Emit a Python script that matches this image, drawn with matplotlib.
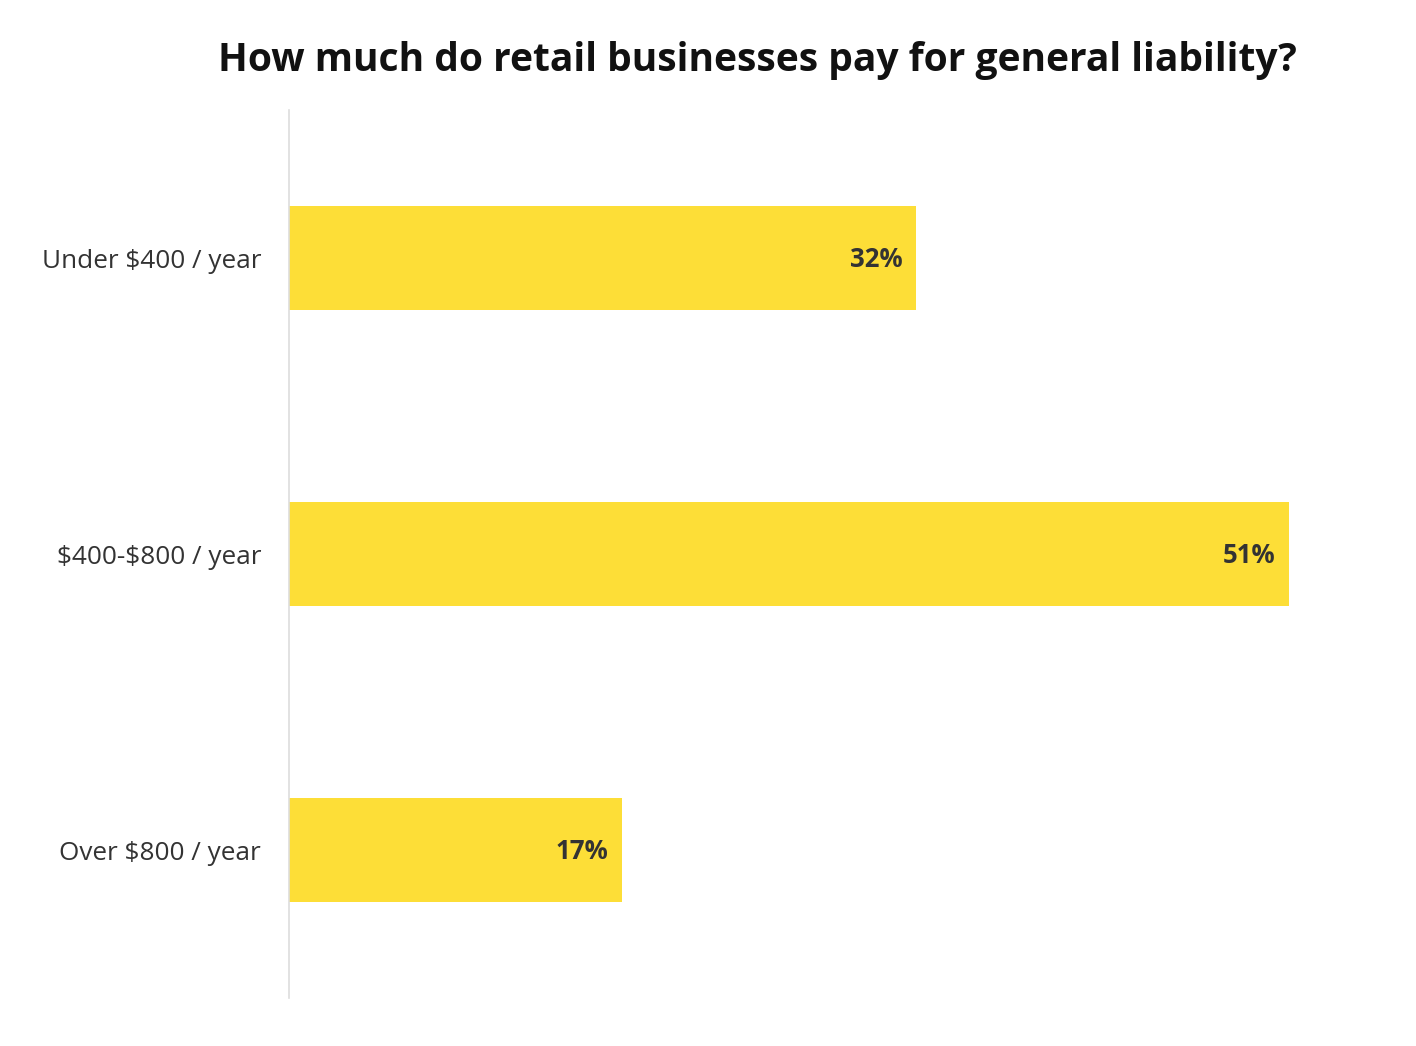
import matplotlib.pyplot as plt

plt.rcParams['font.family'] = ['Open Sans', 'DejaVu Sans']
plt.rcParams['text.parse_math'] = False

# data
categories = ['Under $400 / year', '$400-$800 / year', 'Over $800 / year']
shares = [32, 51, 17]
title = 'How much do retail businesses pay for general liability?'

W, H = 1416, 1046
fig = plt.figure(figsize=(W / 100, H / 100), dpi=100)
# axes placed in pixel terms: left 289, right 1340, top 110, bottom 998
ax = fig.add_axes([289 / W, 1 - 998 / H, (1340 - 289) / W, (998 - 110) / H])

pos = list(range(len(categories)))
ax.barh(pos, shares, height=0.35, color='#FDDE37', zorder=2)

ax.set_xlim(0, 53.6)
ax.set_ylim(2.5, -0.5)

ax.set_yticks(pos)
ax.set_yticklabels(categories, fontsize=18.8, color='#333333')
ax.tick_params(axis='y', length=0, pad=20)
ax.set_xticks([])

for s in ['top', 'right', 'bottom']:
    ax.spines[s].set_visible(False)
ax.spines['left'].set_color('#dddddd')
ax.spines['left'].set_linewidth(1.2)

for p, v in zip(pos, shares):
    ax.annotate(f'{v}%', xy=(v, p), xytext=(-10, -1), textcoords='offset points',
                ha='right', va='center', fontsize=18.5, fontweight='bold',
                color='#333333', zorder=3)

fig.text(757 / W, 1 - 60 / H, title, ha='center', va='center',
         fontsize=28.1, fontweight='bold', color='#111111')

fig.savefig('out.png', dpi=100)
